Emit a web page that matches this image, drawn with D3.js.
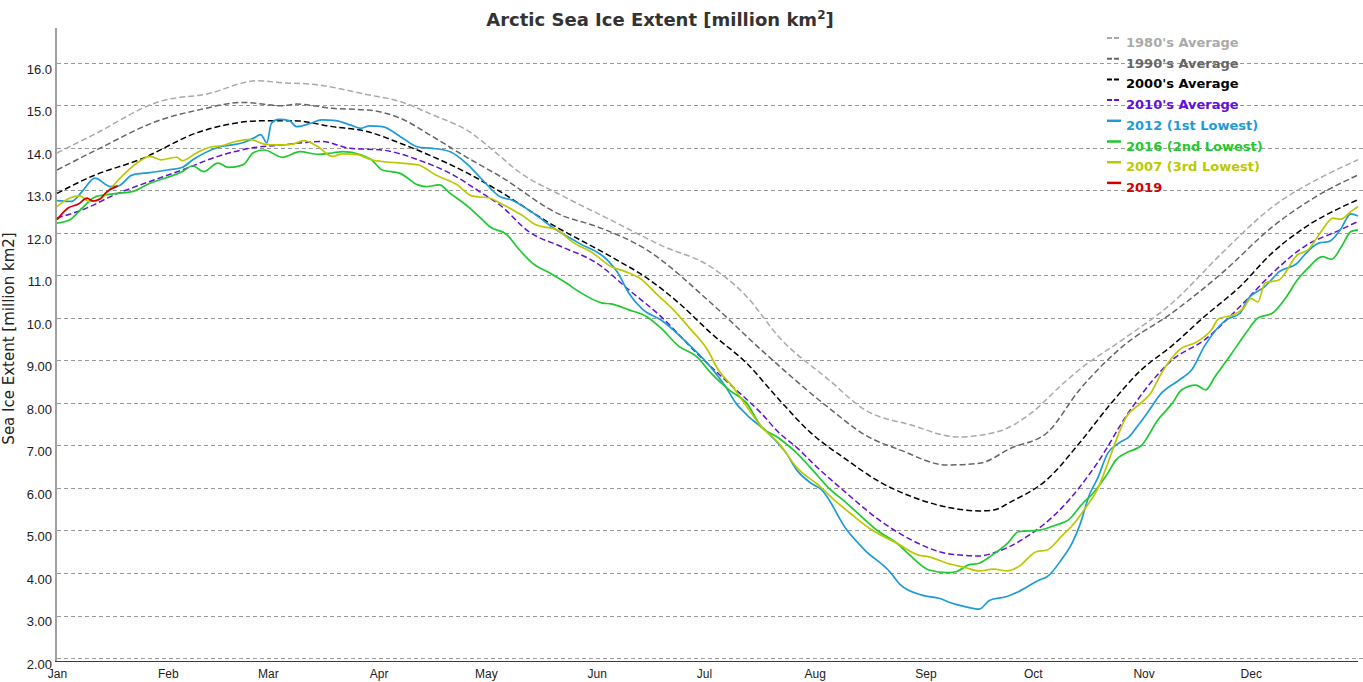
<!DOCTYPE html>
<html>
<head>
<meta charset="utf-8">
<script src="https://cdn.jsdelivr.net/npm/d3@7/dist/d3.min.js"></script>
<style>
  body { margin: 0; background: #fff; }
  svg { font-family: "DejaVu Sans", Verdana, sans-serif; display: block; }
</style>
</head>
<body>
<svg width="1363" height="682"></svg>
<script>
// values, as [day of year, million km2]
const monthNames = ['Jan', 'Feb', 'Mar', 'Apr', 'May', 'Jun', 'Jul', 'Aug', 'Sep', 'Oct', 'Nov', 'Dec'];
const monthStartDays = [0, 31, 59, 90, 120, 151, 181, 212, 243, 273, 304, 334];
const yTickValues = [2, 3, 4, 5, 6, 7, 8, 9, 10, 11, 12, 13, 14, 15, 16];

const avg1980s = [[0,13.88],[10,14.3],[29,15.1],[42,15.27],[56,15.58],[63,15.53],[71,15.5],[87,15.25],[96,15.09],
  [105,14.78],[115,14.4],[124,13.8],[129,13.45],[141,12.89],[155,12.3],[170,11.67],[182,11.25],[193,10.5],[202,9.55],
  [216,8.54],[226,7.84],[239,7.48],[252,7.2],[263,7.32],[273,7.79],[281,8.42],[286,8.78],[298,9.48],[312,10.35],
  [326,11.53],[340,12.61],[354,13.32],[364,13.72]];

const avg1990s = [[0,13.48],[11,13.95],[29,14.66],[40,14.9],[52,15.07],[63,14.99],[67,15.03],[77,14.93],[87,14.89],
  [96,14.7],[105,14.27],[115,13.76],[124,13.33],[141,12.42],[151,12.15],[165,11.6],[183,10.35],[197,9.25],[216,7.88],
  [226,7.25],[236,6.89],[249,6.54],[258,6.58],[267,6.94],[277,7.3],[286,8.3],[298,9.32],[312,10.12],[326,11.06],
  [340,12.14],[354,12.94],[364,13.36]];

const avg2000s = [[0,12.93],[10,13.34],[23,13.72],[40,14.38],[58,14.64],[66,14.64],[77,14.5],[87,14.38],[96,14.11],
  [105,13.8],[115,13.4],[124,12.97],[137,12.27],[155,11.44],[165,10.94],[174,10.35],[183,9.64],[193,8.93],[202,8.08],
  [211,7.29],[221,6.66],[230,6.15],[239,5.8],[249,5.55],[258,5.46],[262,5.48],[267,5.68],[277,6.2],[286,7.05],
  [295,8.0],[303,8.75],[312,9.35],[321,10.03],[331,10.74],[340,11.53],[349,12.12],[359,12.59],[364,12.78]];

const avg2010s = [[0,12.35],[7,12.54],[17,12.93],[26,13.21],[35,13.48],[45,13.8],[54,13.99],[63,14.07],[74,14.15],
  [82,13.99],[91,13.95],[101,13.72],[110,13.4],[119,12.93],[124,12.65],[132,12.03],[141,11.68],[151,11.29],[160,10.66],
  [169,10.03],[179,9.17],[188,8.46],[197,7.76],[202,7.3],[207,6.95],[211,6.62],[221,5.87],[230,5.25],[239,4.78],
  [249,4.46],[258,4.4],[263,4.5],[272,4.89],[281,5.52],[291,6.58],[300,7.8],[312,9.01],[321,9.48],[331,10.27],
  [340,11.05],[349,11.68],[359,12.07],[364,12.27]];

const year2012 = [[0,12.76],[4,12.74],[7,12.97],[10.6,13.29],[15,13.09],[17,13.1],[21,13.36],[26,13.42],[31,13.48],
  [35,13.54],[38,13.72],[45,14.01],[49,14.07],[52,14.12],[55,14.23],[57,14.31],[58.7,14.12],[60,14.58],[62,14.67],
  [65,14.64],[67,14.5],[71,14.58],[74,14.66],[78,14.64],[82,14.54],[85,14.46],[87.5,14.52],[91,14.5],[96,14.27],
  [101,14.02],[105,13.99],[110,13.91],[115,13.6],[119,13.25],[124,12.85],[127,12.78],[134,12.42],[139,12.11],
  [146,11.76],[154,11.36],[157,11.05],[160,10.58],[164,10.19],[169,9.95],[176,9.44],[182,8.93],[187,8.39],[190,7.99],
  [193,7.72],[199,7.29],[204,6.82],[207,6.42],[211,6.11],[214,5.95],[221,5.01],[226,4.54],[233,4.03],[236,3.72],
  [242,3.48],[247,3.4],[250,3.3],[254,3.21],[258,3.15],[261,3.36],[265.5,3.44],[269,3.56],[275,3.84],[277,3.91],
  [281,4.31],[284,4.7],[286,5.09],[289,5.87],[291,6.2],[294,6.82],[297,7.05],[300,7.21],[302.7,7.5],[305,7.76],
  [309,8.23],[314,8.54],[317.5,8.78],[321,9.33],[327,9.95],[331,10.11],[333,10.42],[338,10.74],[342,11.09],
  [347,11.29],[349,11.48],[353,11.76],[356,11.8],[359,12.07],[362,12.45],[364,12.4]];

const year2016 = [[0,12.23],[3.6,12.31],[7,12.58],[11,12.86],[17,12.93],[21,12.97],[26,13.17],[31,13.31],[35,13.44],
  [38,13.58],[41,13.44],[45,13.64],[48,13.54],[52,13.6],[55,13.89],[58,13.95],[63,13.78],[68,13.91],[73,13.85],
  [77,13.88],[80,13.91],[85,13.84],[88,13.72],[91,13.48],[96,13.4],[101,13.13],[103,13.09],[107,13.13],[110,12.93],
  [115,12.62],[119,12.31],[121,12.15],[126,11.95],[129,11.64],[133,11.29],[138,11.05],[142.5,10.82],[146,10.62],
  [152.6,10.35],[155,10.33],[160,10.19],[165,10.03],[169,9.76],[174,9.33],[179,9.09],[183,8.7],[188,8.31],[193,7.99],
  [197,7.45],[202,7.17],[207,6.82],[211,6.46],[216,5.99],[221,5.64],[225,5.33],[230,4.97],[235,4.7],[239,4.39],
  [244,4.07],[249,4.01],[251.5,4.03],[255,4.19],[258,4.23],[261.6,4.42],[266,4.7],[269,4.97],[275,5.01],[279.5,5.13],
  [283,5.25],[287,5.64],[289.5,5.84],[294,6.35],[296.3,6.66],[299,6.82],[303.5,7.01],[308,7.6],[312,7.99],
  [314.7,8.31],[318.6,8.42],[321.4,8.31],[324,8.62],[328.7,9.17],[332.6,9.64],[336,10.0],[340,10.11],[344,10.5],
  [347,10.89],[350,11.17],[354,11.44],[356.6,11.38],[359.4,11.68],[362,12.03],[364,12.07]];

const year2007 = [[0,12.62],[3.6,12.82],[6.4,12.87],[9,12.74],[12,12.79],[15,13.05],[18.5,13.36],[23,13.68],[26,13.8],
  [29,13.72],[33.5,13.78],[35,13.7],[39,13.88],[43,14.02],[46,14.05],[50,14.15],[54,14.2],[58,14.09],[62,14.07],
  [66,14.09],[69,14.17],[73,14.03],[77,13.8],[80,13.86],[84,13.84],[88,13.72],[91,13.68],[101,13.6],[106,13.36],
  [112,13.13],[116,12.87],[121,12.82],[124,12.7],[130,12.42],[134,12.19],[140,12.07],[144,11.8],[150,11.52],
  [155,11.21],[159,11.09],[163,10.94],[168,10.54],[172,10.23],[177,9.76],[182,9.25],[185,8.78],[189,8.39],[193,7.91],
  [197,7.45],[202,7.05],[207,6.48],[213,6.07],[218,5.68],[222,5.4],[228,5.01],[235,4.7],[241,4.42],[244,4.38],
  [249,4.23],[254,4.13],[258,4.05],[262,4.09],[266,4.05],[269,4.15],[274,4.5],[277,4.54],[281,4.86],[284,5.11],
  [288,5.56],[291,5.95],[294,6.58],[296,7.05],[299,7.65],[303,7.98],[306,8.23],[309,8.7],[314,9.25],[319,9.44],
  [323,9.72],[325,9.98],[329,10.07],[332,10.23],[334,10.46],[336,10.38],[338,10.82],[342,10.9],[347,11.48],
  [350,11.6],[354,12.07],[357,12.35],[359,12.32],[362,12.5],[364,12.62]];

const year2019 = [[0,12.31],[3,12.58],[6,12.68],[8.4,12.82],[10,12.75],[12,12.8],[14,12.97],[17,13.1]];

const seriesNames = ["1980's Average", "1990's Average", "2000's Average", "2010's Average",
  '2012 (1st Lowest)', '2016 (2nd Lowest)', '2007 (3rd Lowest)', '2019'];
const seriesValues = [avg1980s, avg1990s, avg2000s, avg2010s, year2012, year2016, year2007, year2019];

// styles kept apart from the values
const seriesColors = ['#aaaaaa', '#666666', '#000000', '#6010d8', '#1d9bd8', '#1fc930', '#bcc800', '#d40000'];
const seriesDashed = [true, true, true, true, false, false, false, false];

const svg = d3.select('svg');

const plot = {left: 57, right: 1358, top: 28, bottom: 661};

const xScale = d3.scaleLinear()
  .domain([0, 364])
  .range([plot.left, plot.right]);

const yScale = d3.scaleLinear()
  .domain([1.93, 16.82])
  .range([plot.bottom, plot.top]);

// horizontal dashed grid
svg.append('g')
  .selectAll('line')
  .data(yTickValues)
  .enter().append('line')
    .attr('x1', plot.left)
    .attr('x2', plot.right + 5)
    .attr('y1', d => Math.round(yScale(d)) + 0.5)
    .attr('y2', d => Math.round(yScale(d)) + 0.5)
    .attr('stroke', '#9a9a9a')
    .attr('stroke-dasharray', '4,3');

// y axis labels sit a bit under their grid line in the original
const yAxisGroup = svg.append('g')
  .attr('transform', `translate(${plot.left - 1}, 0)`)
  .call(d3.axisLeft(yScale)
    .tickValues(yTickValues)
    .tickFormat(d3.format('.3r'))
    .tickSize(0)
    .tickPadding(4));
yAxisGroup.select('.domain').remove();
yAxisGroup.selectAll('text')
  .attr('dy', '0.8em')
  .attr('fill', '#222')
  .style('font-size', '13px');

// month labels hug the bottom edge (cut off there in the original)
const xAxisGroup = svg.append('g')
  .attr('transform', `translate(0, ${plot.bottom})`)
  .call(d3.axisBottom(xScale)
    .tickValues(monthStartDays)
    .tickFormat((d, i) => monthNames[i])
    .tickSize(0)
    .tickPadding(8));
xAxisGroup.select('.domain').remove();
xAxisGroup.selectAll('text')
  .attr('fill', '#222')
  .style('font-size', '12px');

// frame: grey left axis, dark bottom axis
svg.append('line')
  .attr('x1', plot.left - 1).attr('x2', plot.left - 1)
  .attr('y1', plot.top).attr('y2', plot.bottom)
  .attr('stroke', '#a0a0a0')
  .attr('stroke-width', 2);
svg.append('line')
  .attr('x1', plot.left - 2).attr('x2', plot.right)
  .attr('y1', plot.bottom + 0.5).attr('y2', plot.bottom + 0.5)
  .attr('stroke', '#3a3a3a');

const line = d3.line()
  .x(d => xScale(d[0]))
  .y(d => yScale(d[1]))
  .curve(d3.curveMonotoneX);

svg.append('g')
  .selectAll('path')
  .data(seriesValues)
  .enter().append('path')
    .attr('d', line)
    .attr('fill', 'none')
    .attr('stroke', (d, i) => seriesColors[i])
    .attr('stroke-width', (d, i) => seriesDashed[i] ? 1.5 : 1.7)
    .attr('stroke-dasharray', (d, i) => seriesDashed[i] ? '6,3' : null)
    .attr('stroke-linejoin', 'round');

// legend, top right
const legend = svg.append('g')
  .attr('transform', 'translate(1107, 47)');
const legendRow = legend.selectAll('g')
  .data(seriesNames)
  .enter().append('g')
    .attr('transform', (d, i) => `translate(0, ${i * 20.7})`);
legendRow.append('line')
  .attr('x1', 0).attr('x2', 14)
  .attr('y1', -9).attr('y2', -9)
  .attr('stroke', (d, i) => seriesColors[i])
  .attr('stroke-width', (d, i) => seriesDashed[i] ? 2 : 2.5)
  .attr('stroke-dasharray', (d, i) => seriesDashed[i] ? '5,2' : null);
legendRow.append('text')
  .attr('x', 19)
  .attr('fill', (d, i) => seriesColors[i])
  .style('font-size', '13px')
  .style('font-weight', 'bold')
  .text(d => d);

// title with superscript
const title = svg.append('text')
  .attr('x', 660)
  .attr('y', 26)
  .attr('text-anchor', 'middle')
  .attr('fill', '#333')
  .style('font-size', '18px')
  .style('font-weight', 'bold');
title.append('tspan').text('Arctic Sea Ice Extent [million km');
title.append('tspan').attr('dy', -7).style('font-size', '12px').text('2');
title.append('tspan').attr('dy', 7).text(']');

// y axis title
svg.append('text')
  .attr('transform', `translate(14, ${(plot.top + plot.bottom) / 2 - 6}) rotate(-90)`)
  .attr('text-anchor', 'middle')
  .attr('fill', '#222')
  .style('font-size', '15px')
  .text('Sea Ice Extent [million km2]');
</script>
</body>
</html>
